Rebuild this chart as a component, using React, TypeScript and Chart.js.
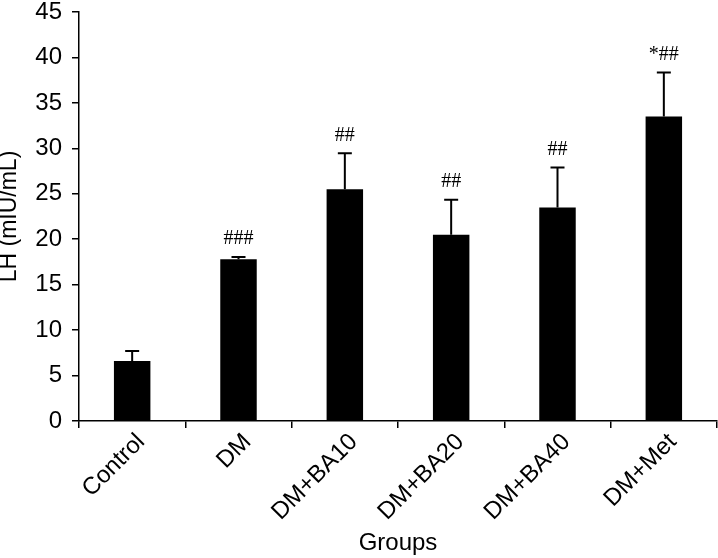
import React, { useEffect, useRef } from "react";
import { Chart, registerables } from "chart.js";

Chart.register(...registerables);

const categories = ["Control", "DM", "DM+BA10", "DM+BA20", "DM+BA40", "DM+Met"];
const means = [6.6, 17.8, 25.5, 20.5, 23.5, 33.5];
const sds = [1.1, 0.25, 3.95, 3.85, 4.4, 4.85];
const marks = ["", "###", "##", "##", "##", "*##"];
const yTicksMax = 45;
const yStep = 5;

const errorPlugin = {
  id: "errorBarsAndMarks",
  afterDatasetsDraw(chart: any) {
    const ctx = chart.ctx;
    const meta = chart.getDatasetMeta(0);
    const ys = chart.scales.y;
    ctx.save();
    ctx.strokeStyle = "#000";
    ctx.fillStyle = "#000";
    ctx.lineWidth = 2;
    meta.data.forEach((bar: any, i: number) => {
      const x = bar.x;
      const yBar = ys.getPixelForValue(means[i]);
      const yTop = ys.getPixelForValue(means[i] + sds[i]);
      ctx.beginPath();
      ctx.moveTo(x, yBar);
      ctx.lineTo(x, yTop);
      ctx.moveTo(x - 7, yTop);
      ctx.lineTo(x + 7, yTop);
      ctx.stroke();
      if (marks[i]) {
        ctx.font = "20px 'Liberation Serif', 'Times New Roman', serif";
        ctx.textAlign = "center";
        ctx.textBaseline = "alphabetic";
        ctx.fillText(marks[i], x, yTop - 12.5);
      }
    });
    ctx.restore();
  },
};

export default function App() {
  const ref = useRef<HTMLCanvasElement>(null);
  useEffect(() => {
    const font = "'Liberation Sans', Arial, sans-serif";
    const chart = new Chart(ref.current!, {
      type: "bar",
      data: {
        labels: categories,
        datasets: [
          {
            data: means,
            backgroundColor: "#000",
            borderWidth: 0,
            barPercentage: 0.343,
            categoryPercentage: 1,
          },
        ],
      },
      options: {
        responsive: false,
        animation: false,
        layout: { padding: { left: 0, right: 1, top: 12, bottom: 0 } },
        plugins: { legend: { display: false }, tooltip: { enabled: false } },
        scales: {
          x: {
            offset: true,
            grid: { display: true, drawOnChartArea: false, drawTicks: true, tickLength: 7, color: "#000", lineWidth: 1.5, offset: true },
            border: { display: true, color: "#000", width: 1.5 },
            ticks: { color: "#000", font: { family: font, size: 24 }, minRotation: 45, maxRotation: 45, padding: 0, labelOffset: 9 },
            title: { display: true, text: "Groups", color: "#000", font: { family: font, size: 24 }, padding: { top: 0, bottom: 0 } },
            afterFit: (s: any) => {
              s.height = 137;
              s.paddingLeft = 0;
              s.paddingRight = 0;
            },
          },
          y: {
            min: 0,
            max: yTicksMax,
            ticks: { stepSize: yStep, color: "#000", font: { family: font, size: 24 }, padding: 10 },
            grid: { display: true, drawOnChartArea: false, drawTicks: true, tickLength: 7, color: "#000", lineWidth: 1.5 },
            border: { display: true, color: "#000", width: 1.5 },
            title: { display: true, text: "LH (mIU/mL)", color: "#000", font: { family: font, size: 23, lineHeight: 0.8 }, padding: { top: 0, bottom: 0 } },
            afterFit: (s: any) => {
              s.width = 79;
              s.paddingTop = 0;
              s.paddingBottom = 0;
            },
          },
        },
      },
      plugins: [errorPlugin],
    });
    return () => chart.destroy();
  }, []);
  return (
    <div style={{ position: "fixed", left: 0, top: 0, width: 718, height: 558, background: "#fff" }}>
      <canvas ref={ref} width={718} height={558} style={{ width: 718, height: 558, display: "block" }} />
    </div>
  );
}
